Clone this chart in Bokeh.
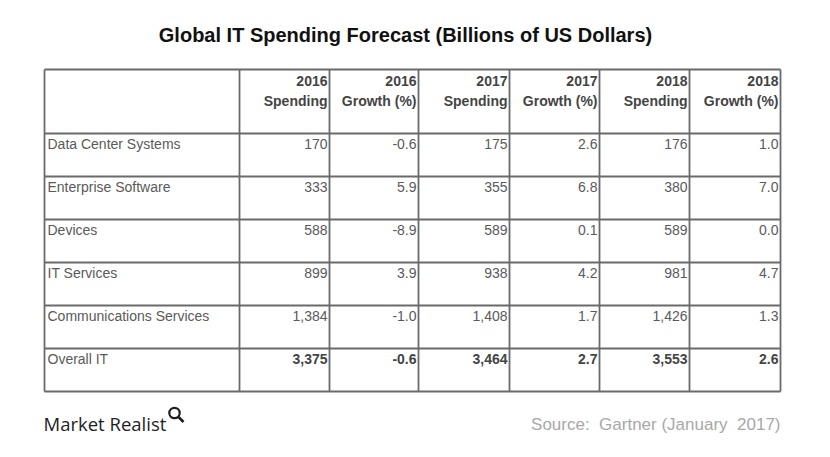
from bokeh.plotting import figure
from bokeh.models import ColumnDataSource, Range1d
from bokeh.core.properties import value
from bokeh.embed import file_html
from bokeh.resources import INLINE

# ---- data ----
title = "Global IT Spending Forecast (Billions of US Dollars)"
categories = ["Data Center Systems", "Enterprise Software", "Devices",
              "IT Services", "Communications Services", "Overall IT"]
header_years = ["2016", "2016", "2017", "2017", "2018", "2018"]
header_labels = ["Spending", "Growth (%)", "Spending", "Growth (%)", "Spending", "Growth (%)"]
spend_2016 = [170, 333, 588, 899, 1384, 3375]
growth_2016 = [-0.6, 5.9, -8.9, 3.9, -1.0, -0.6]
spend_2017 = [175, 355, 589, 938, 1408, 3464]
growth_2017 = [2.6, 6.8, 0.1, 4.2, 1.7, 2.7]
spend_2018 = [176, 380, 589, 981, 1426, 3553]
growth_2018 = [1.0, 7.0, 0.0, 4.7, 1.3, 2.6]
source_note = "Source:\u00a0 Gartner (January\u00a0 2017)"
brand = "Market Realist"

# ---- layout (screen-pixel-like coordinates) ----
W, H = 830, 457
col_edges = [44, 239, 329, 418, 509, 599, 689, 780]
row_edges = [69, 133, 176, 219, 262, 305, 348, 391]
DY = -7  # baseline correction

p = figure(width=W, height=H, output_backend="svg", toolbar_location=None,
           x_range=Range1d(0, W), y_range=Range1d(H, 0),
           x_axis_location=None, y_axis_location=None, min_border=0)
p.grid.visible = False
p.outline_line_color = None
p.background_fill_color = "white"
p.border_fill_color = "white"

font = value("Liberation Sans")

# title
p.text(x=[405], y=[41 + DY], text=[title], text_font=font, text_font_size="20px",
       text_font_style="bold", text_color="#111111", text_align="center",
       text_baseline="alphabetic")

# grid lines
x0s, y0s, x1s, y1s = [], [], [], []
for r in row_edges:
    x0s.append(col_edges[0]); x1s.append(col_edges[-1]); y0s.append(r); y1s.append(r)
for c in col_edges:
    x0s.append(c); x1s.append(c); y0s.append(row_edges[0]); y1s.append(row_edges[-1])
p.segment(x0=x0s, y0=y0s, x1=x1s, y1=y1s, line_color="#6a6a6a", line_width=1.8)

# header
hx = [col_edges[i + 2] - 2 for i in range(6)]
p.text(x=hx, y=[row_edges[0] + 18 + DY] * 6, text=header_years, text_font=font,
       text_font_size="14px", text_font_style="bold", text_color="#444444",
       text_align="right", text_baseline="alphabetic")
p.text(x=hx, y=[row_edges[0] + 38 + DY] * 6, text=header_labels, text_font=font,
       text_font_size="14px", text_font_style="bold", text_color="#444444",
       text_align="right", text_baseline="alphabetic")

# body
columns = [spend_2016, growth_2016, spend_2017, growth_2017, spend_2018, growth_2018]
n = len(categories)
lab = dict(x=[], y=[], t=[])
num = dict(x=[], y=[], t=[])
bold = dict(x=[], y=[], t=[])
for i, cat in enumerate(categories):
    base = row_edges[i + 1] + 17 + DY
    lab["x"].append(col_edges[0] + 3); lab["y"].append(base); lab["t"].append(cat)
    for j, col in enumerate(columns):
        v = col[i]
        s = f"{v:,}" if j % 2 == 0 else f"{v:.1f}"
        d = bold if i == n - 1 else num
        d["x"].append(col_edges[j + 2] - 2); d["y"].append(base); d["t"].append(s)

p.text(x="x", y="y", text="t", source=ColumnDataSource(lab), text_font=font,
       text_font_size="14px", text_color="#5a5a5a", text_align="left",
       text_baseline="alphabetic")
p.text(x="x", y="y", text="t", source=ColumnDataSource(num), text_font=font,
       text_font_size="14px", text_color="#5a5a5a", text_align="right",
       text_baseline="alphabetic")
p.text(x="x", y="y", text="t", source=ColumnDataSource(bold), text_font=font,
       text_font_size="14px", text_font_style="bold", text_color="#444444",
       text_align="right", text_baseline="alphabetic")

# footer
p.text(x=[43], y=[430 + DY], text=[brand], text_font=value("Open Sans"),
       text_font_size="18.5px", text_color="#1e1e1e", text_align="left",
       text_baseline="alphabetic")
p.circle(x=[174], y=[412.5], radius=5.2, fill_color=None, line_color="#1e1e1e",
         line_width=2.2)
p.segment(x0=[178], y0=[416.5], x1=[183], y1=[421.5], line_color="#1e1e1e",
          line_width=2.6)

p.text(x=[780], y=[431 + DY], text=[source_note], text_font=font,
       text_font_size="17px", text_color="#a8a8a8", text_align="right",
       text_baseline="alphabetic")

open("out.html", "w").write(file_html(p, INLINE))
